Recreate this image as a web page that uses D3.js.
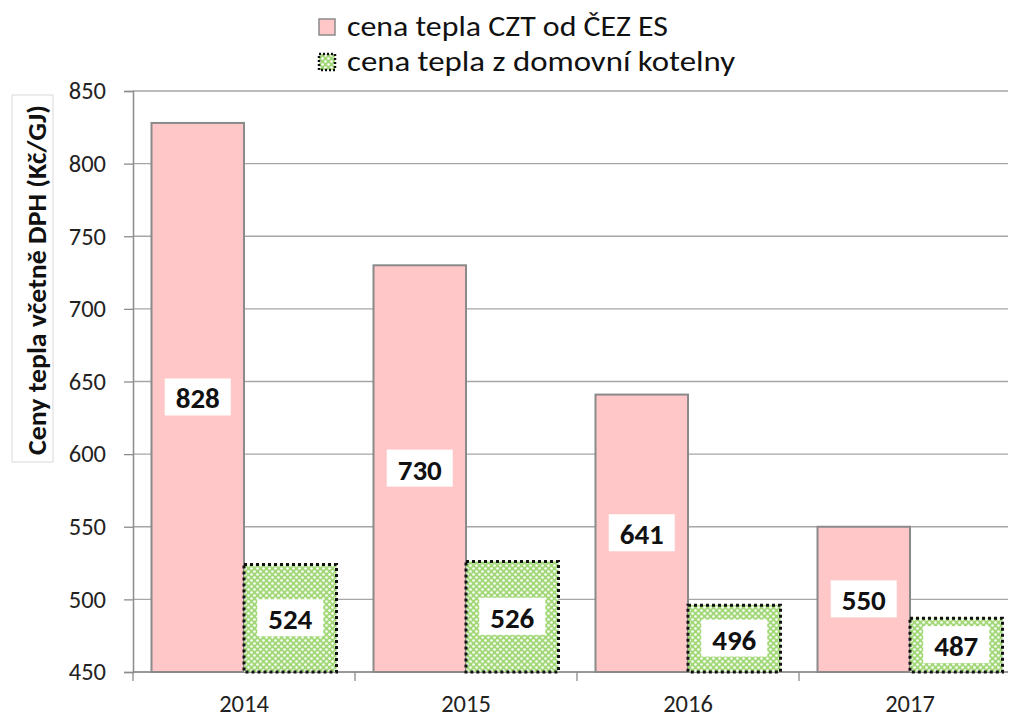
<!DOCTYPE html>
<html><head><meta charset="utf-8">
<script src="https://cdn.jsdelivr.net/npm/d3@7"></script>
<style>body{margin:0;background:#fff}svg{display:block}</style>
</head><body>
<svg id="c" width="1014" height="720"></svg>
<script>
const years = ["2014","2015","2016","2017"];
const seriesNames = ["cena tepla CZT od ČEZ ES","cena tepla z domovní kotelny"];
const cztValues = [828,730,641,550];
const kotelnaValues = [524,526,496,487];
const yTicks = [450,500,550,600,650,700,750,800,850];
const yTitle = "Ceny tepla včetně DPH (Kč/GJ)";

(function(){
const svg = d3.select("#c");
const font = "Carlito, Calibri, Lato, 'Open Sans', sans-serif";
const pLeft = 133, pRight = 1021, pTop = 91, pBottom = 672, gridEnd = 1008;

const defs = svg.append("defs");
const pat = defs.append("pattern").attr("id","dots").attr("patternUnits","userSpaceOnUse")
  .attr("width",6).attr("height",6);
pat.append("rect").attr("width",6).attr("height",6).attr("fill","#a2d878");
pat.append("circle").attr("cx",1.5).attr("cy",1.5).attr("r",1.3).attr("fill","#fff");
pat.append("circle").attr("cx",4.5).attr("cy",4.5).attr("r",1.3).attr("fill","#fff");

const y = d3.scaleLinear().domain([450,850]).range([pBottom,pTop]);
const x0 = d3.scaleBand().domain(years).range([pLeft,pRight]).paddingInner(0).paddingOuter(0);
const x1 = d3.scaleBand().domain([0,1]).range([0,x0.bandwidth()]).paddingOuter(0.2).paddingInner(0);

// gridlines
svg.append("g").selectAll("line").data(yTicks).join("line")
  .attr("x1",pLeft).attr("x2",gridEnd).attr("y1",d=>y(d)).attr("y2",d=>y(d))
  .attr("stroke","#a6a6a6").attr("stroke-width",1.3);

// y axis
const yAxis = svg.append("g").attr("transform",`translate(${pLeft},0)`)
  .call(d3.axisLeft(y).tickValues(yTicks).tickSize(9).tickPadding(18));
yAxis.select(".domain").attr("stroke","#8c8c8c").attr("stroke-width",1.5);
yAxis.selectAll(".tick line").attr("stroke","#8c8c8c").attr("stroke-width",1.3);
yAxis.selectAll("text").attr("font-family",font).attr("font-size",24.5).attr("fill","#222");

// x axis
const xAxis = svg.append("g").attr("transform",`translate(0,${pBottom})`)
  .call(d3.axisBottom(x0).tickSize(0).tickPadding(0));
xAxis.select(".domain").remove();
xAxis.append("line").attr("x1",pLeft).attr("x2",gridEnd).attr("y1",0).attr("y2",0)
  .attr("stroke","#8c8c8c").attr("stroke-width",1.5);
xAxis.selectAll(".tick text").attr("dy",null).attr("y",40)
  .attr("font-family",font).attr("font-size",24.5).attr("fill","#222");
xAxis.selectAll(".sep").data(years.slice(1)).join("line").attr("class","sep")
  .attr("x1",d=>x0(d)).attr("x2",d=>x0(d)).attr("y1",0).attr("y2",9)
  .attr("stroke","#8c8c8c").attr("stroke-width",1.3);
xAxis.append("line").attr("x1",pLeft).attr("x2",pLeft).attr("y1",0).attr("y2",9).attr("stroke","#8c8c8c").attr("stroke-width",1.3);

const data = years.map((yr,i)=>({yr, vals:[cztValues[i],kotelnaValues[i]]}));
const groups = svg.append("g").selectAll("g").data(data).join("g")
  .attr("transform",d=>`translate(${x0(d.yr)},0)`);

groups.each(function(d){
  const g = d3.select(this);
  d.vals.forEach((v,k)=>{
    const bx = x1(k), bw = x1.bandwidth(), by = y(v), bh = pBottom - y(v);
    if(k===0){
      g.append("rect").attr("x",bx).attr("y",by).attr("width",bw).attr("height",bh)
        .attr("fill","#ffc7c7").attr("stroke","#8a8a8a").attr("stroke-width",2);
    } else {
      g.append("rect").attr("x",bx).attr("y",by).attr("width",bw).attr("height",bh)
        .attr("fill","url(#dots)").attr("stroke","#111").attr("stroke-width",3)
        .attr("stroke-dasharray","3,3");
    }
    const cx = bx + bw/2, cy = by + bh/2;
    g.append("rect").attr("x",cx-33).attr("y",cy-19).attr("width",66).attr("height",37).attr("fill","#fff");
    g.append("text").attr("x",cx).attr("y",cy+11).attr("text-anchor","middle")
      .attr("font-family",font).attr("font-weight","bold").attr("font-size",29).attr("fill","#111").text(v);
  });
});

// y title
svg.append("rect").attr("x",12).attr("y",95).attr("width",41).attr("height",367)
  .attr("fill","#fff").attr("stroke","#d9d9d9").attr("stroke-width",1);
svg.append("text").attr("transform",`translate(46,280) rotate(-90)`).attr("text-anchor","middle")
  .attr("font-family",font).attr("font-weight","bold").attr("font-size",26).attr("fill","#111")
  .attr("textLength",350).attr("lengthAdjust","spacingAndGlyphs").text(yTitle);

// legend
const legLens = [321, 388];
const leg = svg.append("g");
seriesNames.forEach((n,i)=>{
  const ly = 19 + i*35;
  leg.append("rect").attr("x",319).attr("y",ly).attr("width",16).attr("height",16)
    .attr("fill", i===0 ? "#ffc7c7" : "url(#dots)")
    .attr("stroke", i===0 ? "#8a8a8a" : "#111").attr("stroke-width", i===0?1.5:2.5)
    .attr("stroke-dasharray", i===0 ? null : "2,2");
  leg.append("text").attr("x",347).attr("y",ly+17).attr("font-family",font).attr("font-size",29)
    .attr("fill","#111").attr("textLength",legLens[i]).attr("lengthAdjust","spacingAndGlyphs").text(n);
});
})();
</script>
</body></html>
